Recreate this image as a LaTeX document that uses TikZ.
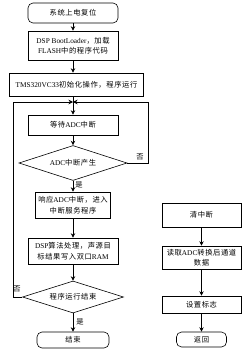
\documentclass[tikz,border=0pt]{standalone}
\usepackage{fontspec}
\setmainfont{Liberation Serif}
\newfontfamily\cjk[LetterSpace=8]{Noto Sans CJK SC}
\usetikzlibrary{arrows.meta,shapes.geometric}
\newcommand\zh[1]{{\cjk #1}}
\begin{document}
\begin{tikzpicture}[x=1pt,y=-1pt,
  box/.style={draw,line width=0.6pt,inner sep=0pt,align=center,
    font=\fontsize{7.3}{10.5}\selectfont},
  rbox/.style={box,rounded corners=5pt},
  dia/.style={box,diamond,aspect=3},
  arr/.style={line width=0.6pt,-{Stealth[length=4.5pt,width=4.5pt,inset=1.5pt]}},
  lbl/.style={font=\fontsize{7.3}{9}\selectfont\cjk,inner sep=0pt}]
\useasboundingbox (0,0) rectangle (250,353);
% main column
\node[rbox,minimum width=90pt,minimum height=20pt] (b1) at (73,13) {\zh{系统上电复位}};
\node[box,minimum width=90pt,minimum height=29pt] (b2) at (73,45.5) {DSP BootLoader\zh{，加载}\\FLASH\zh{中的程序代码}};
\node[box,minimum width=134pt,minimum height=23pt] (b3) at (76.5,84.5) {TMS320VC33\zh{初始化操作，程序运行}};
\coordinate (j) at (73,102);
\coordinate (lj) at (13,102);
\coordinate (rj) at (148,102);
\node[box,minimum width=90pt,minimum height=20pt] (b4) at (73,125) {\zh{等待}ADC\zh{中断}};
\node[dia,minimum width=108pt,minimum height=35pt] (d1) at (73,163) {ADC\zh{中断产生}};
\node[box,minimum width=75pt,minimum height=26pt] (b5) at (73,205) {\zh{响应}ADC\zh{中断，进入}\\\zh{中断服务程序}};
\node[box,minimum width=90pt,minimum height=26pt] (b6) at (73,251) {DSP\zh{算法处理，声源目}\\\zh{标结果写入双口}RAM};
\node[dia,minimum width=101pt,minimum height=32pt] (d2) at (73,297) {\zh{程序运行结束}};
\node[rbox,minimum width=72pt,minimum height=16pt] (e) at (73,340) {\zh{结束}};
% right column
\node[box,minimum width=79pt,minimum height=24pt] (r1) at (201.5,215) {\zh{清中断}};
\node[box,minimum width=79pt,minimum height=23pt] (r2) at (201.5,257.5) {\zh{读取}ADC\zh{转换后通道}\\\zh{数据}};
\node[box,minimum width=79pt,minimum height=17pt] (r3) at (201.5,304.5) {\zh{设置标志}};
\node[rbox,minimum width=50pt,minimum height=15pt] (r4) at (201.5,339.5) {\zh{返回}};
% connectors
\draw[arr] (b1) -- (b2);
\draw[arr] (b2.south) -- (b2.south |- b3.north);
\draw[line width=0.6pt] (b3.south -| j) -- (j);
\draw[arr] (j) -- (b4);
\draw[arr] (b4) -- (d1);
\draw[arr] (d1) -- (b5) node[lbl,pos=0.4,right=2pt] {是};
\draw[arr] (b5) -- (b6);
\draw[arr] (b6) -- (d2);
\draw[arr] (d2) -- (e) node[lbl,pos=0.45,right=3pt] {是};
\draw[arr] (d1.east) -| (rj) -- (j);
\draw[arr] (d2.west) -| (lj) -- (j);
\node[lbl] (n1) at (140,157) {否};
\node[lbl] (n2) at (17,289) {否};
\draw[arr] (r1) -- (r2);
\draw[arr] (r2) -- (r3);
\draw[arr] (r3) -- (r4);
\end{tikzpicture}
\end{document}
